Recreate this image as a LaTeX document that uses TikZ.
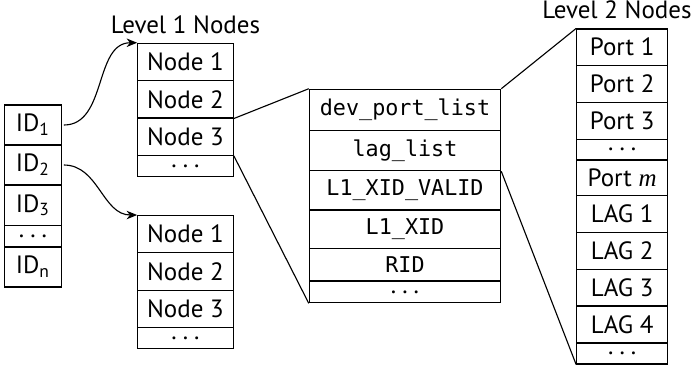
\documentclass[tikz,border=0pt]{standalone}
\usepackage{fontspec}
\setmainfont{PT Sans}
\setmonofont[Scale=0.87]{DejaVu Sans Mono}
\newfontfamily\mfont{Liberation Serif}
\newcommand\ddd{.\hspace{2.4pt}.\hspace{2.4pt}.}
\usetikzlibrary{arrows.meta}
\begin{document}
\begin{tikzpicture}[x=0.4pt,y=-0.4pt,
  cell/.style={draw, inner sep=0pt, line width=0.45pt, anchor=center},
  idc/.style={cell, minimum width=22.64pt},
  lac/.style={cell, minimum width=38.24pt},
  mdc/.style={cell, minimum width=76.56pt},
  rtc/.style={cell, minimum width=36.4pt},
  conn/.style={line width=0.45pt},
  arr/.style={conn, -{Stealth[length=4.2pt,width=3.4pt,inset=1.3pt]}},
  lbl/.style={inner sep=0pt, anchor=base},
  font=\fontsize{10}{12}\selectfont]
\useasboundingbox (0,0) rectangle (699,368);
% ID column
\node[idc, minimum height=16pt] (id1) at (33,125) {ID\textsubscript{1}};
\node[idc, minimum height=16pt] (id2) at (33,165) {ID\textsubscript{2}};
\node[idc, minimum height=16.28pt] (id3) at (33,205.35) {ID\textsubscript{3}};
\node[idc, minimum height=8.52pt] (id4) at (33,236.35) {\ddd};
\node[idc, minimum height=16pt] (id5) at (33,267) {ID\textsubscript{n}};
% Level 1 upper
\node[lbl] (l1) at (185.5,33.3) {Level 1 Nodes};
\node[lac, minimum height=14.93pt] (a1) at (185.5,61.97) {Node 1};
\node[lac, minimum height=14.93pt] (a2) at (185.5,99.3) {Node 2};
\node[lac, minimum height=14.93pt] (a3) at (185.5,136.63) {Node 3};
\node[lac, minimum height=8.56pt] (a4) at (185.5,166) {\ddd};
% Level 1 lower
\node[lac, minimum height=14.9pt] (b1) at (185.5,234.2) {Node 1};
\node[lac, minimum height=14.9pt] (b2) at (185.5,271.45) {Node 2};
\node[lac, minimum height=14.9pt] (b3) at (185.5,308.7) {Node 3};
\node[lac, minimum height=8.6pt] (b4) at (185.5,337.9) {\ddd};
% middle
\node[mdc, minimum height=16.56pt] (m1) at (405,110) {\ttfamily dev\_port\_list};
\node[mdc, minimum height=16pt] (m2) at (405,150.7) {\ttfamily lag\_list};
\node[mdc, minimum height=15.72pt] (m3) at (405,190.35) {\ttfamily L1\_XID\_VALID};
\node[mdc, minimum height=15.32pt] (m4) at (405,229.15) {\ttfamily L1\_XID};
\node[mdc, minimum height=13.08pt] (m5) at (405,264.65) {\ttfamily RID};
\node[mdc, minimum height=8.68pt] (m6) at (405,291.85) {\ddd};
% Level 2
\node[lbl] (l2) at (617,18.3) {Level 2 Nodes};
\node[rtc, minimum height=14.52pt] (r1) at (622.2,47.15) {Port 1};
\node[rtc, minimum height=14.96pt] (r2) at (622.2,84) {Port 2};
\node[rtc, minimum height=14.64pt] (r3) at (622.2,121) {Port 3};
\node[rtc, minimum height=8.28pt] (r4) at (622.2,149.65) {\ddd};
\node[rtc, minimum height=14.28pt] (r5) at (622.2,177.85) {Port {\mfont\itshape m}};
\node[rtc, minimum height=14.8pt] (r6) at (622.2,214.2) {LAG 1};
\node[rtc, minimum height=14.64pt] (r7) at (622.2,251) {LAG 2};
\node[rtc, minimum height=14.68pt] (r8) at (622.2,287.65) {LAG 3};
\node[rtc, minimum height=14.8pt] (r9) at (622.2,324.5) {LAG 4};
\node[rtc, minimum height=8.4pt] (r10) at (622.2,353.5) {\ddd};
% connectors
\draw[arr] ([xshift=0.8pt]id1.east) to[out=0,in=180] (a1.north west);
\draw[arr] ([xshift=0.8pt]id2.east) to[out=0,in=180] (b1.north west);
\draw[conn] (a2.south east) -- (m1.north west);
\draw[conn] (a3.south east) -- (m6.south west);
\draw[conn] (m1.north east) -- (r1.north west);
\draw[conn] (m2.south east) -- (r10.south west);
\end{tikzpicture}
\end{document}
